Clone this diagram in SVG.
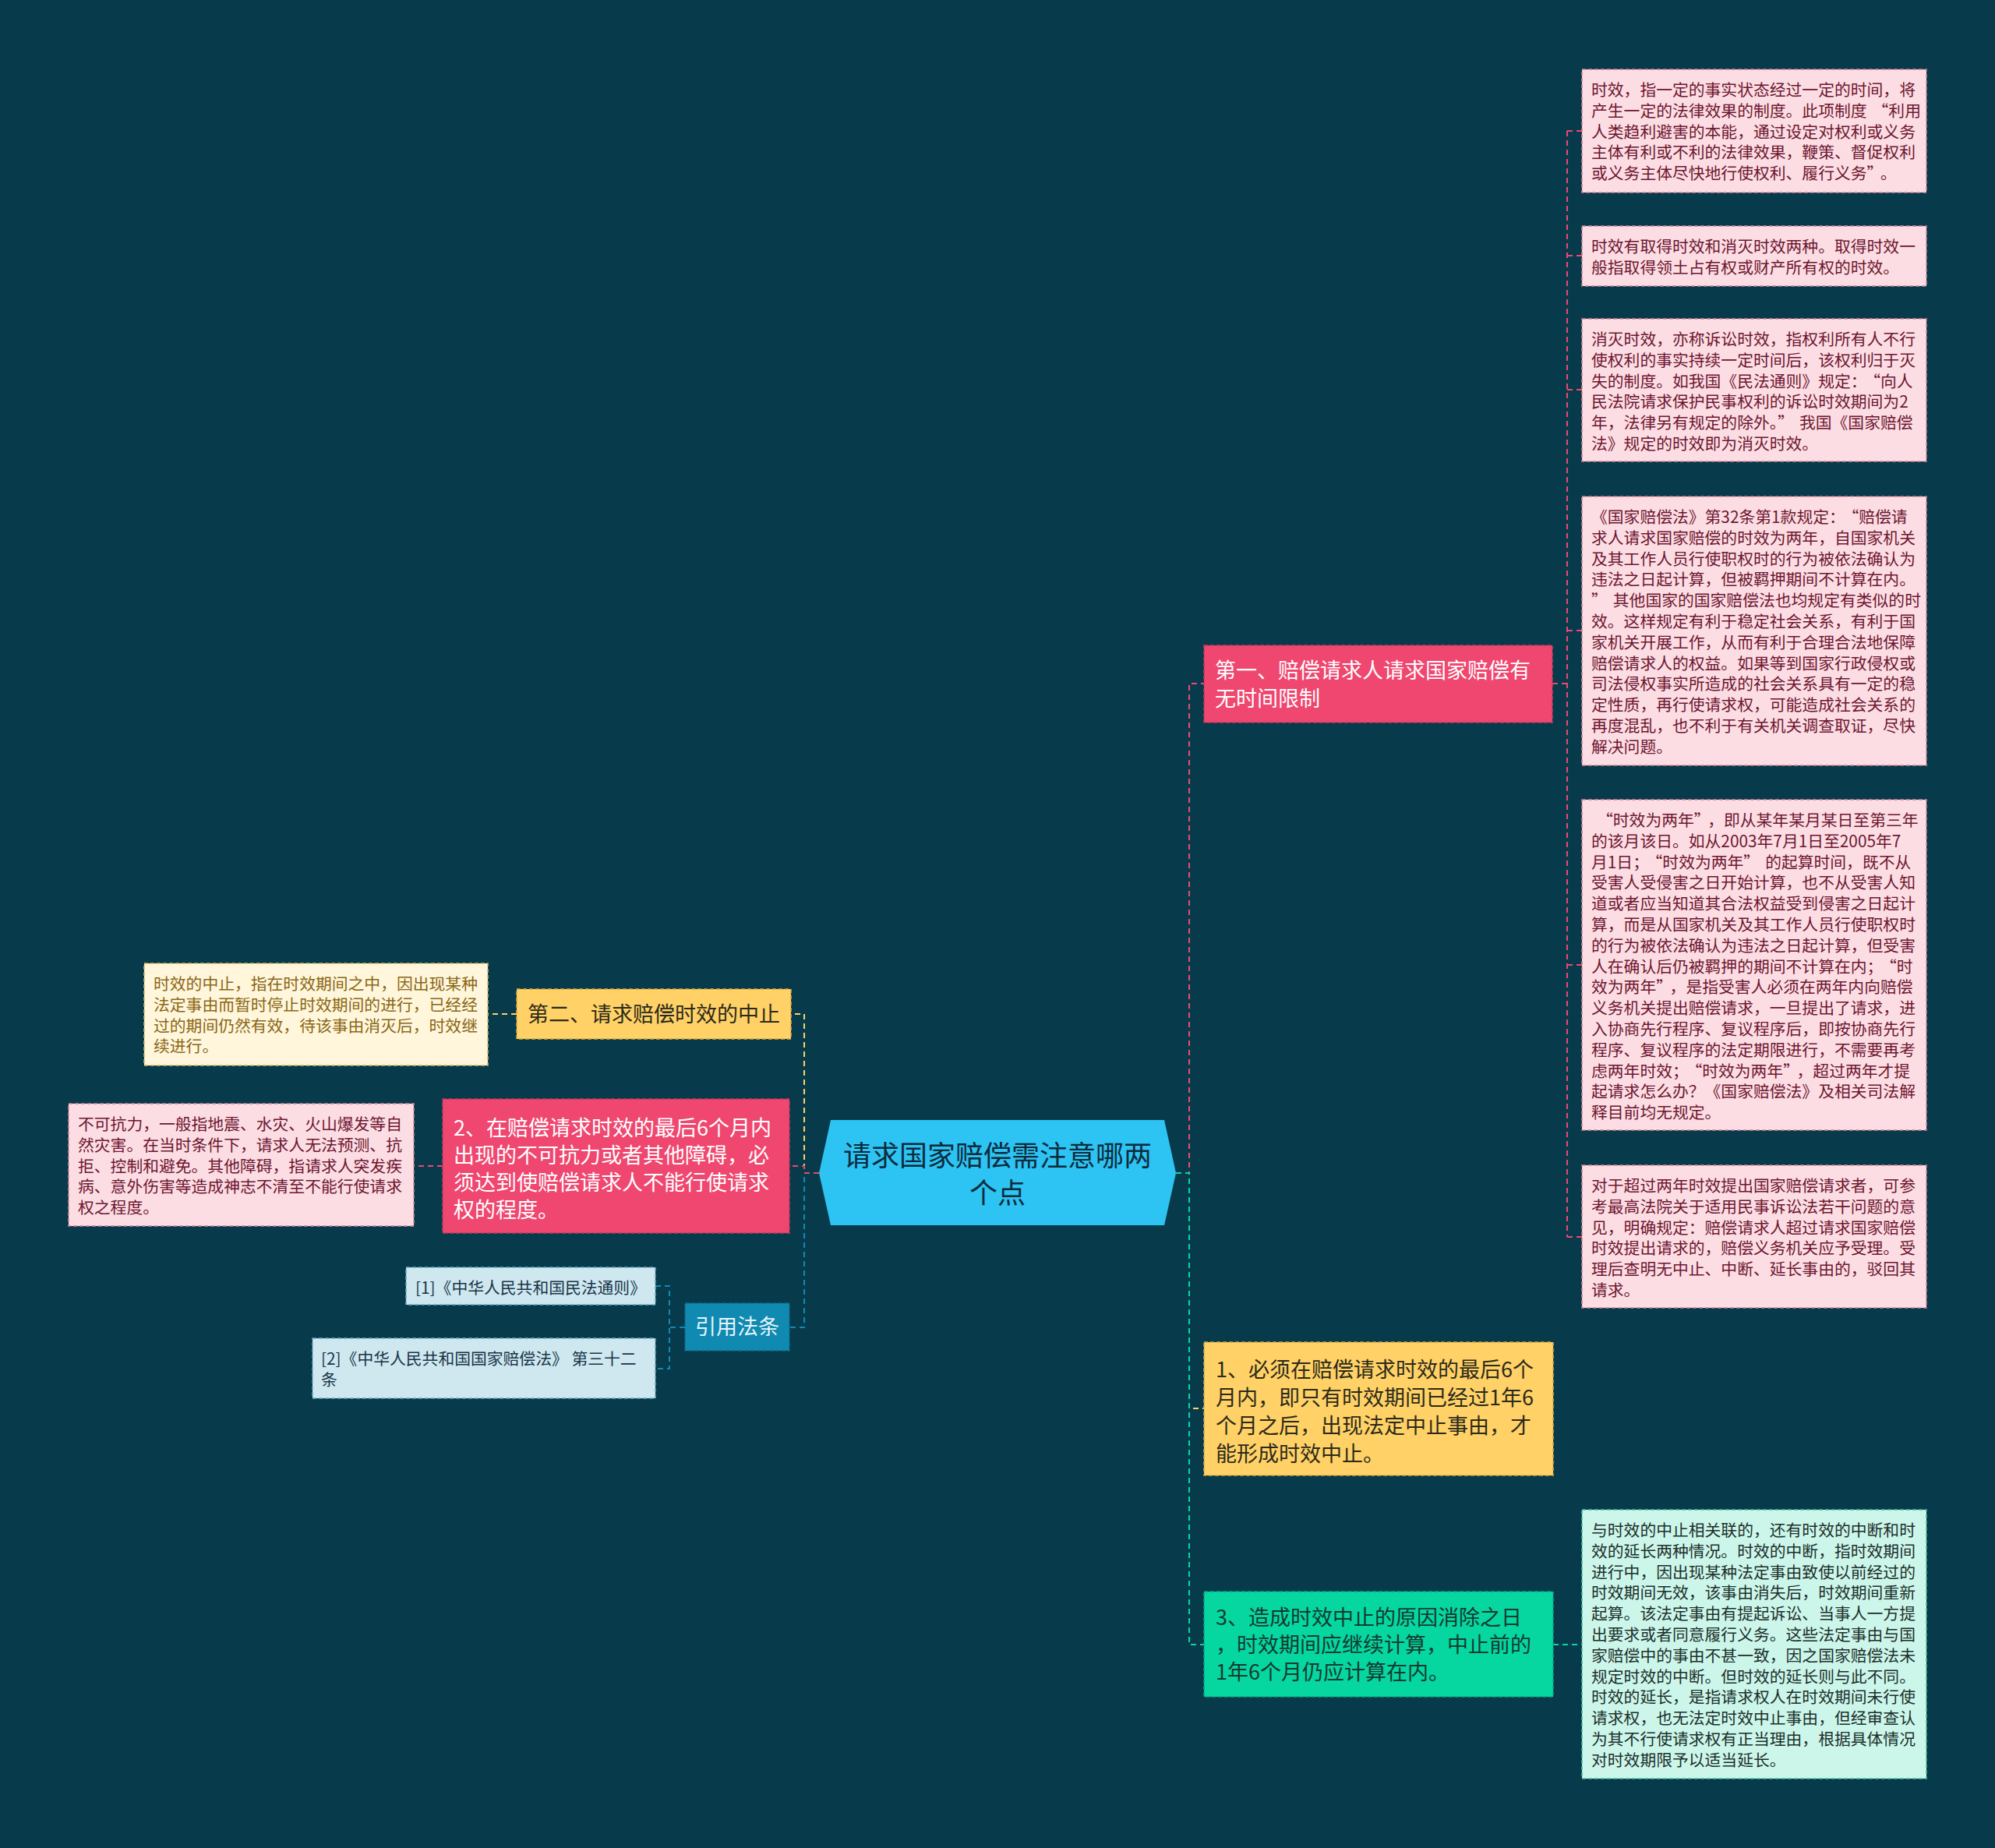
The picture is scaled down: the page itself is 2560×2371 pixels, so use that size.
<svg xmlns="http://www.w3.org/2000/svg" width="2560" height="2371" viewBox="0 0 2560 2371">
<style>
text{font-family:"Noto Sans CJK SC","Noto Sans",sans-serif}
.s{font-size:20.8px}
.m{font-size:27px}
.c{font-size:36px}
.pk{fill:#fcdde3;stroke:#d98197;stroke-width:1.5;stroke-dasharray:5 3}
.pkt{fill:#6e1631}
.cr{fill:#fff6dc;stroke:#d9b45a;stroke-width:1.5;stroke-dasharray:5 3}
.crt{fill:#8a6714}
.tl{fill:#cdf6ea;stroke:#45bf9e;stroke-width:1.5;stroke-dasharray:5 3}
.tlt{fill:#1b302c}
.lb{fill:#cfe7ef;stroke:#6aa9c3;stroke-width:1.5;stroke-dasharray:5 3}
.lbt{fill:#17364a}
.np{fill:#ef476f;stroke:#c7385c;stroke-width:1.5;stroke-dasharray:5 3}
.ny{fill:#ffd166;stroke:#d9ab3e;stroke-width:1.5;stroke-dasharray:5 3}
.nt{fill:#06d6a0;stroke:#04a87d;stroke-width:1.5;stroke-dasharray:5 3}
.nb{fill:#118ab2;stroke:#0c6c8c;stroke-width:1.5;stroke-dasharray:5 3}
.w{fill:#ffffff}
.d{fill:#2b2a1a}
.dt{fill:#123a30}
.cn{fill:none;stroke-width:2;stroke-dasharray:7 5}
</style>
<rect x="0" y="0" width="2560" height="2371" fill="#073b4c"/>

<g id="connectors">
  <polyline class="cn" stroke="#ef476f" points="1509,1505 1526,1505 1526,877 1545,877"/>
  <polyline class="cn" stroke="#ffd166" points="1509,1505 1526,1505 1526,1807 1545,1807"/>
  <polyline class="cn" stroke="#06d6a0" points="1509,1505 1526,1505 1526,2110 1545,2110"/>
  <polyline class="cn" stroke="#ef476f" points="1992,877 2011,877"/>
  <polyline class="cn" stroke="#ef476f" points="2011,168 2011,1587"/>
  <line class="cn" stroke="#ef476f" x1="2011" y1="168" x2="2030" y2="168"/>
  <line class="cn" stroke="#ef476f" x1="2011" y1="328" x2="2030" y2="328"/>
  <line class="cn" stroke="#ef476f" x1="2011" y1="500" x2="2030" y2="500"/>
  <line class="cn" stroke="#ef476f" x1="2011" y1="809" x2="2030" y2="809"/>
  <line class="cn" stroke="#ef476f" x1="2011" y1="1238" x2="2030" y2="1238"/>
  <line class="cn" stroke="#ef476f" x1="2011" y1="1587" x2="2030" y2="1587"/>
  <line class="cn" stroke="#06d6a0" x1="1993" y1="2110" x2="2030" y2="2110"/>
  <polyline class="cn" stroke="#ffd166" points="1051,1505 1032,1505 1032,1301 1015,1301"/>
  <polyline class="cn" stroke="#118ab2" points="1051,1505 1032,1505 1032,1703 1013,1703"/>
  <polyline class="cn" stroke="#ef476f" points="1051,1505 1032,1505 1032,1496 1013,1496"/>
  <line class="cn" stroke="#ffd166" x1="663" y1="1301" x2="626" y2="1301"/>
  <line class="cn" stroke="#ef476f" x1="568" y1="1496" x2="531" y2="1496"/>
  <polyline class="cn" stroke="#118ab2" points="879,1703 859,1703"/>
  <polyline class="cn" stroke="#118ab2" points="841,1650 859,1650 859,1756 841,1756"/>
</g>

<g id="center">
  <polygon points="1066,1437 1494,1437 1509,1505 1494,1572 1066,1572 1051,1505" fill="#2dc3f3"/>
  <text class="c" fill="#0c2b3b" x="1280" y="1496" text-anchor="middle">请求国家赔偿需注意哪两</text>
  <text class="c" fill="#0c2b3b" x="1280" y="1544" text-anchor="middle">个点</text>
</g>

<g id="node-first">
  <rect class="np" x="1545" y="828" width="447" height="99"/>
  <text class="m w" x="1559" y="870">第一、赔偿请求人请求国家赔偿有</text>
  <text class="m w" x="1559" y="906">无时间限制</text>
</g>

<g id="box-a">
  <rect class="pk" x="2030" y="89" width="442" height="158"/>
  <text class="s pkt" x="2042" y="123">时效，指一定的事实状态经过一定的时间，将</text>
  <text class="s pkt" x="2042" y="149.8">产生一定的法律效果的制度。此项制度<tspan dx="7">“</tspan>利用</text>
  <text class="s pkt" x="2042" y="176.6">人类趋利避害的本能，通过设定对权利或义务</text>
  <text class="s pkt" x="2042" y="203.4">主体有利或不利的法律效果，鞭策、督促权利</text>
  <text class="s pkt" x="2042" y="230.2">或义务主体尽快地行使权利、履行义务”<tspan dx="7">。</tspan></text>
</g>

<g id="box-b">
  <rect class="pk" x="2030" y="290" width="442" height="77"/>
  <text class="s pkt" x="2042" y="324">时效有取得时效和消灭时效两种。取得时效一</text>
  <text class="s pkt" x="2042" y="350.8">般指取得领土占有权或财产所有权的时效。</text>
</g>

<g id="box-c">
  <rect class="pk" x="2030" y="409" width="442" height="183"/>
  <text class="s pkt" x="2042" y="443">消灭时效，亦称诉讼时效，指权利所有人不行</text>
  <text class="s pkt" x="2042" y="469.8">使权利的事实持续一定时间后，该权利归于灭</text>
  <text class="s pkt" x="2042" y="496.6">失的制度。如我国《民法通则》规定：<tspan dx="7">“</tspan>向人</text>
  <text class="s pkt" x="2042" y="523.4">民法院请求保护民事权利的诉讼时效期间为2</text>
  <text class="s pkt" x="2042" y="550.2">年，法律另有规定的除外。”<tspan dx="7">我国《国家赔偿</tspan></text>
  <text class="s pkt" x="2042" y="577">法》规定的时效即为消灭时效。</text>
</g>

<g id="box-d">
  <rect class="pk" x="2030" y="637" width="442" height="345"/>
  <text class="s pkt" x="2042" y="671">《国家赔偿法》第32条第1款规定：<tspan dx="7">“</tspan>赔偿请</text>
  <text class="s pkt" x="2042" y="697.8">求人请求国家赔偿的时效为两年，自国家机关</text>
  <text class="s pkt" x="2042" y="724.6">及其工作人员行使职权时的行为被依法确认为</text>
  <text class="s pkt" x="2042" y="751.4">违法之日起计算，但被羁押期间不计算在内。</text>
  <text class="s pkt" x="2042" y="778.2">”<tspan dx="7">其他国家的国家赔偿法也均规定有类似的时</tspan></text>
  <text class="s pkt" x="2042" y="805">效。这样规定有利于稳定社会关系，有利于国</text>
  <text class="s pkt" x="2042" y="831.8">家机关开展工作，从而有利于合理合法地保障</text>
  <text class="s pkt" x="2042" y="858.6">赔偿请求人的权益。如果等到国家行政侵权或</text>
  <text class="s pkt" x="2042" y="885.4">司法侵权事实所造成的社会关系具有一定的稳</text>
  <text class="s pkt" x="2042" y="912.2">定性质，再行使请求权，可能造成社会关系的</text>
  <text class="s pkt" x="2042" y="939">再度混乱，也不利于有关机关调查取证，尽快</text>
  <text class="s pkt" x="2042" y="965.8">解决问题。</text>
</g>

<g id="box-e">
  <rect class="pk" x="2030" y="1026" width="442" height="424"/>
  <text class="s pkt" x="2042" y="1060"><tspan dx="7">“</tspan>时效为两年”<tspan dx="7">，即从某年某月某日至第三年</tspan></text>
  <text class="s pkt" x="2042" y="1086.8">的该月该日。如从2003年7月1日至2005年7</text>
  <text class="s pkt" x="2042" y="1113.6">月1日；<tspan dx="7">“</tspan>时效为两年”<tspan dx="7">的起算时间，既不从</tspan></text>
  <text class="s pkt" x="2042" y="1140.4">受害人受侵害之日开始计算，也不从受害人知</text>
  <text class="s pkt" x="2042" y="1167.2">道或者应当知道其合法权益受到侵害之日起计</text>
  <text class="s pkt" x="2042" y="1194">算，而是从国家机关及其工作人员行使职权时</text>
  <text class="s pkt" x="2042" y="1220.8">的行为被依法确认为违法之日起计算，但受害</text>
  <text class="s pkt" x="2042" y="1247.6">人在确认后仍被羁押的期间不计算在内；<tspan dx="7">“</tspan>时</text>
  <text class="s pkt" x="2042" y="1274.4">效为两年”<tspan dx="7">，是指受害人必须在两年内向赔偿</tspan></text>
  <text class="s pkt" x="2042" y="1301.2">义务机关提出赔偿请求，一旦提出了请求，进</text>
  <text class="s pkt" x="2042" y="1328">入协商先行程序、复议程序后，即按协商先行</text>
  <text class="s pkt" x="2042" y="1354.8">程序、复议程序的法定期限进行，不需要再考</text>
  <text class="s pkt" x="2042" y="1381.6">虑两年时效；<tspan dx="7">“</tspan>时效为两年”<tspan dx="7">，超过两年才提</tspan></text>
  <text class="s pkt" x="2042" y="1408.4">起请求怎么办？《国家赔偿法》及相关司法解</text>
  <text class="s pkt" x="2042" y="1435.2">释目前均无规定。</text>
</g>

<g id="box-f">
  <rect class="pk" x="2030" y="1495" width="442" height="183"/>
  <text class="s pkt" x="2042" y="1529">对于超过两年时效提出国家赔偿请求者，可参</text>
  <text class="s pkt" x="2042" y="1555.8">考最高法院关于适用民事诉讼法若干问题的意</text>
  <text class="s pkt" x="2042" y="1582.6">见，明确规定：赔偿请求人超过请求国家赔偿</text>
  <text class="s pkt" x="2042" y="1609.4">时效提出请求的，赔偿义务机关应予受理。受</text>
  <text class="s pkt" x="2042" y="1636.2">理后查明无中止、中断、延长事由的，驳回其</text>
  <text class="s pkt" x="2042" y="1663">请求。</text>
</g>

<g id="node-one">
  <rect class="ny" x="1545" y="1722" width="448" height="171"/>
  <text class="m d" x="1560" y="1767">1、必须在赔偿请求时效的最后6个</text>
  <text class="m d" x="1560" y="1803">月内，即只有时效期间已经过1年6</text>
  <text class="m d" x="1560" y="1839">个月之后，出现法定中止事由，才</text>
  <text class="m d" x="1560" y="1875">能形成时效中止。</text>
</g>

<g id="node-three">
  <rect class="nt" x="1545" y="2042" width="448" height="135"/>
  <text class="m dt" x="1560" y="2085">3、造成时效中止的原因消除之日</text>
  <text class="m dt" x="1560" y="2120">，时效期间应继续计算，中止前的</text>
  <text class="m dt" x="1560" y="2155">1年6个月仍应计算在内。</text>
</g>

<g id="box-g">
  <rect class="tl" x="2030" y="1937" width="442" height="345"/>
  <text class="s tlt" x="2042" y="1971">与时效的中止相关联的，还有时效的中断和时</text>
  <text class="s tlt" x="2042" y="1997.8">效的延长两种情况。时效的中断，指时效期间</text>
  <text class="s tlt" x="2042" y="2024.6">进行中，因出现某种法定事由致使以前经过的</text>
  <text class="s tlt" x="2042" y="2051.4">时效期间无效，该事由消失后，时效期间重新</text>
  <text class="s tlt" x="2042" y="2078.2">起算。该法定事由有提起诉讼、当事人一方提</text>
  <text class="s tlt" x="2042" y="2105">出要求或者同意履行义务。这些法定事由与国</text>
  <text class="s tlt" x="2042" y="2131.8">家赔偿中的事由不甚一致，因之国家赔偿法未</text>
  <text class="s tlt" x="2042" y="2158.6">规定时效的中断。但时效的延长则与此不同。</text>
  <text class="s tlt" x="2042" y="2185.4">时效的延长，是指请求权人在时效期间未行使</text>
  <text class="s tlt" x="2042" y="2212.2">请求权，也无法定时效中止事由，但经审查认</text>
  <text class="s tlt" x="2042" y="2239">为其不行使请求权有正当理由，根据具体情况</text>
  <text class="s tlt" x="2042" y="2265.8">对时效期限予以适当延长。</text>
</g>

<g id="node-second">
  <rect class="ny" x="663" y="1269" width="352" height="64"/>
  <text class="m d" x="677" y="1311">第二、请求赔偿时效的中止</text>
</g>

<g id="box-suspend">
  <rect class="cr" x="185" y="1236" width="441" height="131"/>
  <text class="s crt" x="197" y="1270">时效的中止，指在时效期间之中，因出现某种</text>
  <text class="s crt" x="197" y="1296.8">法定事由而暂时停止时效期间的进行，已经经</text>
  <text class="s crt" x="197" y="1323.6">过的期间仍然有效，待该事由消灭后，时效继</text>
  <text class="s crt" x="197" y="1350.4">续进行。</text>
</g>

<g id="node-two">
  <rect class="np" x="568" y="1410" width="445" height="172"/>
  <text class="m w" x="582" y="1457">2、在赔偿请求时效的最后6个月内</text>
  <text class="m w" x="582" y="1492">出现的不可抗力或者其他障碍，必</text>
  <text class="m w" x="582" y="1527">须达到使赔偿请求人不能行使请求</text>
  <text class="m w" x="582" y="1562">权的程度。</text>
</g>

<g id="box-force">
  <rect class="pk" x="88" y="1416" width="443" height="157"/>
  <text class="s pkt" x="100" y="1450">不可抗力，一般指地震、水灾、火山爆发等自</text>
  <text class="s pkt" x="100" y="1476.8">然灾害。在当时条件下，请求人无法预测、抗</text>
  <text class="s pkt" x="100" y="1503.6">拒、控制和避免。其他障碍，指请求人突发疾</text>
  <text class="s pkt" x="100" y="1530.4">病、意外伤害等造成神志不清至不能行使请求</text>
  <text class="s pkt" x="100" y="1557.2">权之程度。</text>
</g>

<g id="node-refs">
  <rect class="nb" x="879" y="1672" width="134" height="61"/>
  <text class="m" fill="#e6f4f9" x="946" y="1712" text-anchor="middle">引用法条</text>
</g>

<g id="ref-1">
  <rect class="lb" x="521" y="1626" width="320" height="48"/>
  <text class="s lbt" x="533" y="1660">[1]《中华人民共和国民法通则》</text>
</g>

<g id="ref-2">
  <rect class="lb" x="401" y="1717" width="440" height="77"/>
  <text class="s lbt" x="412" y="1751">[2]《中华人民共和国国家赔偿法》 第三十二</text>
  <text class="s lbt" x="412" y="1777.8">条</text>
</g>
</svg>
